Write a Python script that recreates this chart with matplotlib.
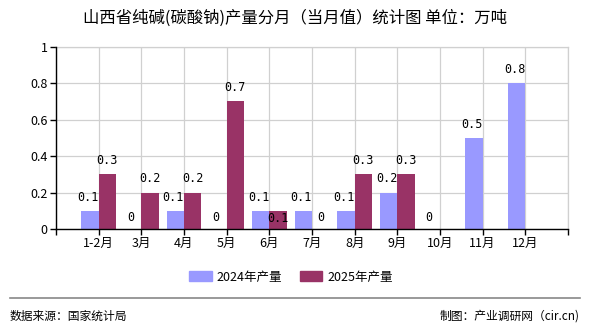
import matplotlib
matplotlib.use("Agg")
from matplotlib import pyplot as plt
from matplotlib.lines import Line2D

plt.rcParams['font.family'] = ['Noto Sans CJK SC', 'DejaVu Sans']

# data
months = ["1-2月", "3月", "4月", "5月", "6月", "7月", "8月", "9月", "10月", "11月", "12月"]
output2024 = [0.1, 0, 0.1, 0, 0.1, 0.1, 0.1, 0.2, 0, 0.5, 0.8]
output2025 = [0.3, 0.2, 0.2, 0.7, 0.1, 0, 0.3, 0.3, None, None, None]
yticks = [0, 0.2, 0.4, 0.6, 0.8, 1]

color2024 = "#9999FF"
color2025 = "#993366"
gridColor = "#d0d0d0"

fig = plt.figure(figsize=(5.9, 3.3), dpi=100)
ax = fig.add_axes([56 / 590, 1 - 229 / 330, 512 / 590, 182.3 / 330])

barW = 0.41
pos = list(range(1, len(months) + 1))

ax.bar([p - barW / 2 for p in pos], output2024, width=barW, color=color2024, zorder=3)
vals25 = [v if v is not None else 0 for v in output2025]
ax.bar([p + barW / 2 for p in pos], vals25, width=barW, color=color2025, zorder=3)

labelFont = dict(family="DejaVu Sans Mono", fontsize=8.5, ha="center", va="center", zorder=5)
for i, p in enumerate(pos):
    v = output2024[i]
    ax.text(p - barW / 2 - 0.05, v + 0.075 if v else 0.065, "%g" % v, **labelFont)
    v = output2025[i]
    if v is None:
        continue
    y = v + 0.075 if v else 0.065
    # label pushed below when it would collide with the 2024 one
    if v == output2024[i] and v:
        y = v - 0.045
    ax.text(p + barW / 2, y, "%g" % v, **labelFont)

ax.set_xlim(0, 12)
ax.set_ylim(0, 1)
ax.set_xticks(range(0, 13))
ax.set_xticklabels([""] + months + [""], fontsize=9)
ax.set_yticks(yticks)
ax.set_yticklabels(["%g" % t for t in yticks], fontsize=9)
ax.grid(True, color=gridColor, linewidth=0.9, zorder=0)
for s in ["top", "right"]:
    ax.spines[s].set_color(gridColor)
    ax.spines[s].set_linewidth(0.9)
for s in ["left", "bottom"]:
    ax.spines[s].set_color("black")
    ax.spines[s].set_linewidth(1.0)
    ax.spines[s].set_zorder(4)
ax.tick_params(axis="both", length=4, width=1, color="black", pad=2)

fig.text(0.5, 1 - 18 / 330, "山西省纯碱(碳酸钠)产量分月（当月值）统计图 单位：万吨",
         ha="center", va="center", fontsize=11.8)

handles = [plt.Rectangle((0, 0), 1, 1, color=color2024),
           plt.Rectangle((0, 0), 1, 1, color=color2025)]
fig.legend(handles, ["2024年产量", "2025年产量"], loc="center",
           bbox_to_anchor=(291 / 590, 1 - 277 / 330), ncol=2, frameon=False,
           fontsize=9, handlelength=1.8, handleheight=0.9, handletextpad=0.4,
           columnspacing=1.4)

fig.add_artist(Line2D([10 / 590, 580 / 590], [1 - 298 / 330] * 2, color="#888888", linewidth=1.2))
fig.text(10 / 590, 1 - 316 / 330, "数据来源：国家统计局", ha="left", va="center", fontsize=8.5)
fig.text(580 / 590, 1 - 316 / 330, "制图：产业调研网（cir.cn)", ha="right", va="center", fontsize=8.5)

fig.savefig("out.png", dpi=100)
